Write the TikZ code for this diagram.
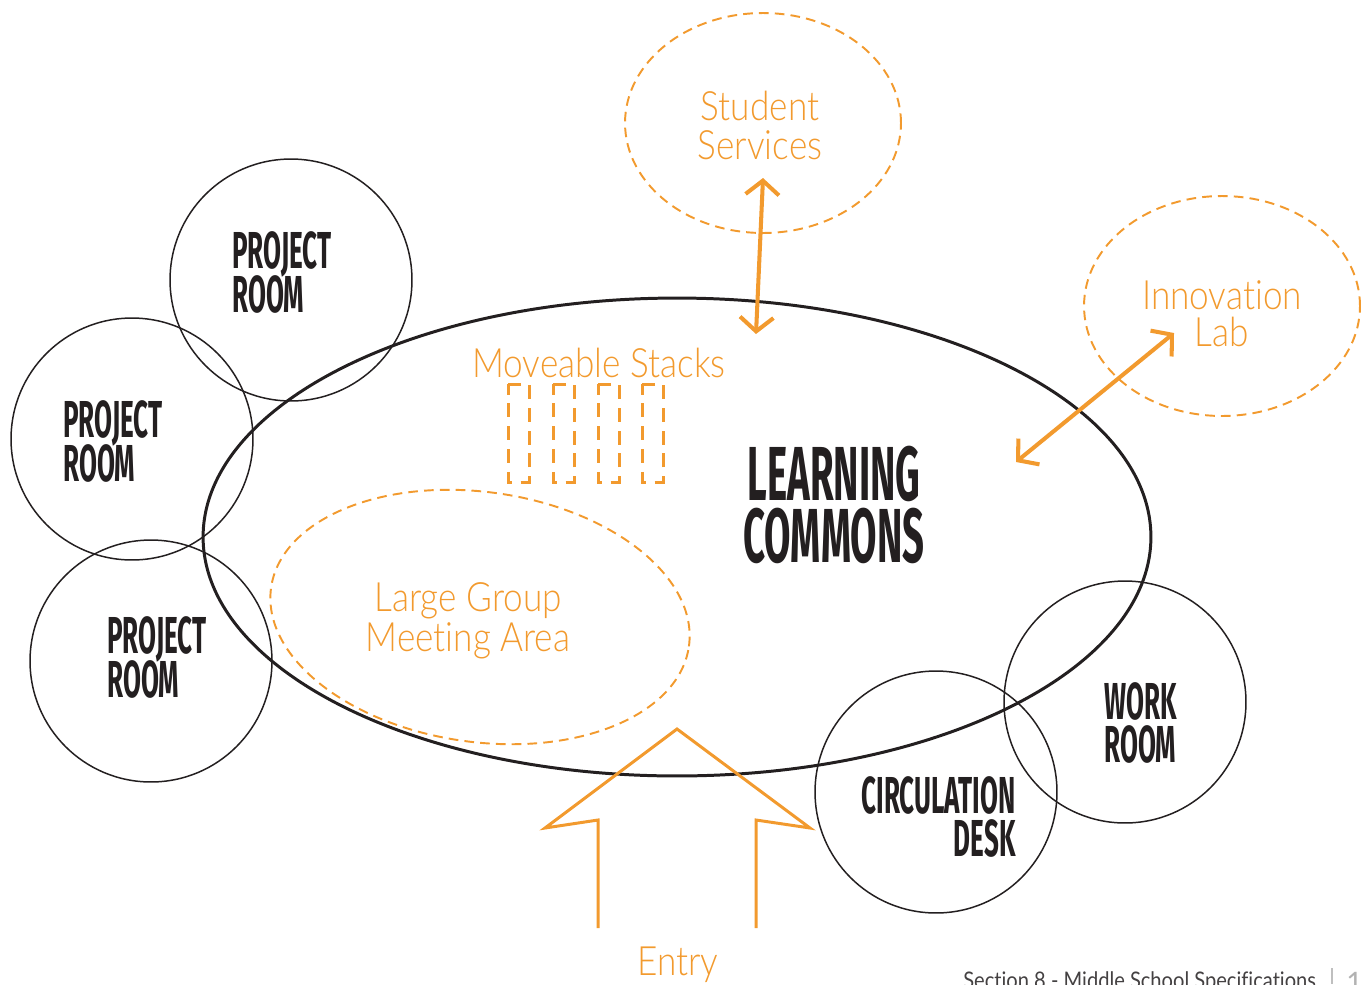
\documentclass[tikz,border=0pt]{standalone}
\usepackage{graphicx}
\usepackage{fontspec}
\usetikzlibrary{arrows.meta,shapes.geometric}
\setmainfont{Lato}[Ligatures=NoCommon]
\newfontfamily\thinfont{Lato Light}[Ligatures=NoCommon]
\newfontfamily\condfont{Fira Sans}
\definecolor{org}{HTML}{F29A2E}
\definecolor{ink}{HTML}{231F20}
\newcommand\cnd[2]{\scalebox{0.5}[1]{\condfont\bfseries\fontsize{#1}{#1}\selectfont #2}}
\newcommand\ot[1]{\scalebox{0.87}[1]{\thinfont\fontsize{23}{23}\selectfont #1}}
\tikzset{
  roomc/.style={circle, draw=ink, line width=0.85pt, minimum size=4.84cm, inner sep=0pt},
  blk/.style={inner sep=0pt, text=ink},
  otxt/.style={inner sep=0pt, text=org},
  dashline/.style={draw=org, line width=1.1pt, dash pattern=on 5.5pt off 3.5pt},
  stackbox/.style={draw=org, line width=1.7pt, dash pattern=on 8pt off 5pt, dash phase=2pt},
  dblarrow/.style={draw=org, line width=2.3pt, {Straight Barb[length=8pt,width=19pt,line width=2.3pt]}-{Straight Barb[length=8pt,width=19pt,line width=2.3pt]}},
}
\begin{document}
\begin{tikzpicture}[x=0.02cm,y=-0.02cm]
\useasboundingbox (0,0) rectangle (1368,984);
% main ellipse
\node[ellipse, draw=ink, line width=1.7pt, minimum width=18.96cm, minimum height=9.56cm, inner sep=0pt] (lc) at (677,537) {};
% rooms
\node[roomc] (pr1) at (291,280) {};
\node[roomc] (pr2) at (132,439) {};
\node[roomc] (pr3) at (151,661) {};
\node[roomc] (wr) at (1125,702) {};
\node[roomc] (cd) at (936,792) {};
% dashed areas
\node[ellipse, dashline, minimum width=5.52cm, minimum height=4.4cm, inner sep=0pt] (ss) at (763,123) {};
\node[ellipse, dashline, minimum width=5.52cm, minimum height=4.4cm, inner sep=0pt] (il) at (1222,306) {};
\node[ellipse, dashline, minimum width=8.44cm, minimum height=5.0cm, inner sep=0pt, rotate=-8] (lg) at (480,617) {};
% stacks
\foreach \i/\x in {1/508,2/553,3/598,4/642}{
  \draw[stackbox] (\x,384) rectangle ++(21,98);
}
% texts
\node[blk, anchor=base west] (t1a) at (232,268) {\cnd{29.6}{PROJECT}};
\node[blk, anchor=base west] (t1b) at (232,312) {\cnd{29.6}{ROOM}};
\node[blk, anchor=base west] (t2a) at (63,437) {\cnd{29.6}{PROJECT}};
\node[blk, anchor=base west] (t2b) at (63,481) {\cnd{29.6}{ROOM}};
\node[blk, anchor=base west] (t3a) at (107,653) {\cnd{29.6}{PROJECT}};
\node[blk, anchor=base west] (t3b) at (107,697) {\cnd{29.6}{ROOM}};
\node[blk, anchor=base west] (t4a) at (1104,719) {\cnd{29.6}{WORK}};
\node[blk, anchor=base west] (t4b) at (1104,762) {\cnd{29.6}{ROOM}};
\node[blk, anchor=base east] (t5a) at (1016,813) {\cnd{29.6}{CIRCULATION}};
\node[blk, anchor=base east] (t5b) at (1016,856) {\cnd{29.6}{DESK}};
\node[blk, anchor=base] (t6a) at (834,500) {\cnd{43.6}{LEARNING}};
\node[blk, anchor=base] (t6b) at (834,562) {\cnd{43.6}{COMMONS}};
\node[otxt, anchor=base] (o1) at (599,377) {\ot{Moveable Stacks}};
\node[otxt, anchor=base] (o2a) at (760,120) {\ot{Student}};
\node[otxt, anchor=base] (o2b) at (760,159) {\ot{Services}};
\node[otxt, anchor=base] (o3a) at (1222,309) {\ot{Innovation}};
\node[otxt, anchor=base] (o3b) at (1222,346) {\ot{Lab}};
\node[otxt, anchor=base] (o4a) at (468,611) {\ot{Large Group}};
\node[otxt, anchor=base] (o4b) at (468,651) {\ot{Meeting Area}};
\node[otxt, anchor=base] (o5) at (678,975) {\ot{Entry}};
\node[inner sep=0pt, anchor=base west, text=ink!85] (foot) at (963,988) {\scalebox{0.88}[1]{\fontsize{13}{13}\selectfont Section 8 - Middle School Specifications}};
\draw[black!25, line width=0.6pt] (1332,968) -- (1332,984);
\node[inner sep=0pt, anchor=base west, text=black!30, font=\fontsize{16}{16}\selectfont] (pg) at (1346,992) {1};
% arrows
\coordinate (a1) at (763,178);
\coordinate (a2) at (756,334);
\coordinate (b1) at (1174,333);
\coordinate (b2) at (1016,462);
\draw[dblarrow] (a1) -- (a2);
\draw[dblarrow] (b1) -- (b2);
% entry arrow
\coordinate (e1) at (598,928);
\coordinate (e2) at (598,820);
\coordinate (e3) at (545,828);
\coordinate (e4) at (677,729);
\coordinate (e5) at (810,828);
\coordinate (e6) at (756,820);
\coordinate (e7) at (756,928);
\draw[org, line width=1.7pt, line join=miter] (e1) -- (e2) -- (e3) -- (e4) -- (e5) -- (e6) -- (e7);
\end{tikzpicture}
\end{document}
